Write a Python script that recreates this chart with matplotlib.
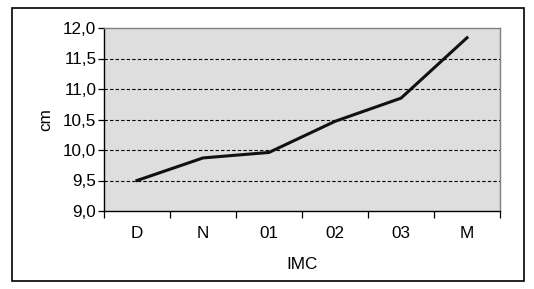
import matplotlib
matplotlib.use("Agg")
import matplotlib.pyplot as plt
from matplotlib.patches import Rectangle
import numpy as np

categories = ["D", "N", "01", "02", "03", "M"]
values = [9.50, 9.87, 9.96, 10.47, 10.85, 11.84]
yticks = [9.0, 9.5, 10.0, 10.5, 11.0, 11.5, 12.0]
ytick_labels = ["9,0", "9,5", "10,0", "10,5", "11,0", "11,5", "12,0"]

plt.rcParams['font.family'] = ['Liberation Sans', 'DejaVu Sans']

W, H = 534, 289
fig = plt.figure(figsize=(W/100, H/100), dpi=100)
fig.patch.set_facecolor("white")

# outer border
fig.add_artist(Rectangle((12/W, 1 - 281/H), (524-12)/W, (281-8)/H,
                         transform=fig.transFigure, fill=False,
                         edgecolor="black", linewidth=1.2))

left, top, right, bottom = 104, 28, 500, 211
ax = fig.add_axes([left/W, 1 - bottom/H, (right-left)/W, (bottom-top)/H])
ax.set_facecolor("#dedede")

x = np.arange(len(categories))
ax.plot(x, values, color="#111111", linewidth=2.2, solid_joinstyle="miter", zorder=3)

fs = 12.3
ax.set_xlim(-0.5, len(categories) - 0.5)
ax.set_ylim(9.0, 12.0)
ax.set_yticks(yticks)
ax.set_yticklabels(ytick_labels, fontsize=fs)
for yv in yticks[1:-1]:
    ax.axhline(yv, color="black", linestyle=(0, (3, 2)), linewidth=0.8, zorder=2)

ax.set_xticks(x)
ax.set_xticklabels(categories, fontsize=fs)
ax.tick_params(axis="x", which="major", length=0, pad=10.5)
ax.set_xticks(np.arange(-0.5, len(categories)), minor=True)
ax.tick_params(axis="x", which="minor", length=5, width=0.9, direction="out")
ax.tick_params(axis="y", length=4, width=0.9, direction="out", pad=1.5)

for side in ["left", "bottom"]:
    ax.spines[side].set_color("black")
    ax.spines[side].set_linewidth(1.0)
for side in ["top", "right"]:
    ax.spines[side].set_color("#808080")
    ax.spines[side].set_linewidth(1.0)

ax.set_ylabel("cm", fontsize=fs, labelpad=7)
ax.set_xlabel("IMC", fontsize=fs, labelpad=11.5)

fig.savefig("out.png", dpi=100)
